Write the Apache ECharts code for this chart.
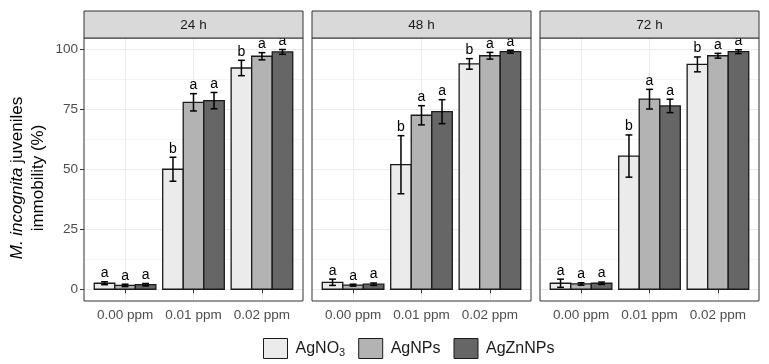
<!DOCTYPE html>
<html>
<head>
<meta charset="utf-8">
<script src="https://cdn.jsdelivr.net/npm/echarts@6/dist/echarts.min.js"></script>
<style>html,body{margin:0;padding:0;background:#fff;}#chart{width:769px;height:364px;}</style>
</head>
<body>
<div id="chart"></div>
<script>
// ---- data ----
const panels = ['24 h', '48 h', '72 h'];
const categories = ['0.00 ppm', '0.01 ppm', '0.02 ppm'];
const treatments = ['AgNO3', 'AgNPs', 'AgZnNPs'];
const yTicks = [0, 25, 50, 75, 100];
const yMinorTicks = [12.5, 37.5, 62.5, 87.5];

// mean immobility (%) per panel (24h, 48h, 72h) x concentration
const AgNO3_mean   = [[2.5, 50.0, 92.2], [2.9, 51.9, 93.9], [2.5, 55.5, 93.7]];
const AgNO3_sd     = [[0.6, 5.0, 3.2],   [1.3, 12.1, 2.2],  [1.7, 8.8, 3.1]];
const AgNO3_letter = [['a', 'b', 'b'],   ['a', 'b', 'b'],   ['a', 'b', 'b']];

const AgNPs_mean   = [[1.6, 77.9, 97.1], [1.7, 72.5, 97.3], [2.2, 79.2, 97.3]];
const AgNPs_sd     = [[0.5, 3.6, 1.5],   [0.4, 4.0, 1.4],   [0.5, 4.1, 1.0]];
const AgNPs_letter = [['a', 'a', 'a'],   ['a', 'a', 'a'],   ['a', 'a', 'a']];

const AgZnNPs_mean   = [[1.9, 78.6, 98.9], [2.1, 74.0, 99.0], [2.5, 76.4, 99.0]];
const AgZnNPs_sd     = [[0.5, 3.4, 1.0],   [0.5, 5.0, 0.6],   [0.5, 2.8, 0.8]];
const AgZnNPs_letter = [['a', 'a', 'a'],   ['a', 'a', 'a'],   ['a', 'a', 'a']];

// ---- styles / layout ----
const fills = ['#EBEBEB', '#B3B3B3', '#666666'];
const means = [AgNO3_mean, AgNPs_mean, AgZnNPs_mean];
const sds = [AgNO3_sd, AgNPs_sd, AgZnNPs_sd];
const letters = [AgNO3_letter, AgNPs_letter, AgZnNPs_letter];
const FONT = '"Liberation Sans", Arial, sans-serif';
const panelLeft = [84, 312, 540];
const panelW = 219;
const gridTop = 38, gridH = 263;
const stripTop = 11, stripH = 27;
const dodge = 0.3, barHalf = 0.15, capHalf = 0.05;
const AXFS = 13.5;

const chart = echarts.init(document.getElementById('chart'), null, {renderer: 'canvas'});

const grids = [], xAxes = [], yAxes = [], series = [], graphics = [];
panels.forEach((p, g) => {
  grids.push({left: panelLeft[g], top: gridTop, width: panelW, height: gridH,
    show: true, borderColor: '#333333', borderWidth: 1, backgroundColor: 'transparent', z: 10});
  xAxes.push({
    type: 'value', gridIndex: g, min: 0.4, max: 3.6,
    axisLine: {show: false},
    axisTick: {show: true, customValues: [1, 2, 3], length: 4, lineStyle: {color: '#333333', width: 1}},
    axisLabel: {show: true, customValues: [1, 2, 3], formatter: v => categories[Math.round(v) - 1],
      color: '#4D4D4D', fontSize: AXFS, fontFamily: FONT, margin: 7},
    splitLine: {show: true, lineStyle: {color: '#EBEBEB', width: 1}}
  });
  yAxes.push({
    type: 'value', gridIndex: g, min: -4.9, max: 104.7,
    axisLine: {show: false},
    axisTick: {show: g === 0, customValues: yTicks, length: 4, lineStyle: {color: '#333333', width: 1}},
    axisLabel: {show: g === 0, customValues: yTicks, color: '#4D4D4D', fontSize: AXFS, fontFamily: FONT, margin: 6},
    splitLine: {show: true, lineStyle: {color: '#EBEBEB', width: 1}}
  });
  // minor gridlines axis
  yAxes.push({
    type: 'value', gridIndex: g, min: -4.9, max: 104.7,
    axisLine: {show: false},
    axisTick: {show: false, customValues: yMinorTicks},
    axisLabel: {show: false, customValues: yMinorTicks},
    splitLine: {show: true, lineStyle: {color: '#F4F4F4', width: 1}}
  });
  graphics.push({type: 'rect', z: 20,
    shape: {x: panelLeft[g], y: stripTop, width: panelW, height: stripH},
    style: {fill: '#D9D9D9', stroke: '#333333', lineWidth: 1}});
  graphics.push({type: 'text', z: 21, x: panelLeft[g] + panelW / 2, y: stripTop + stripH / 2 + 0.5,
    style: {text: p, fill: '#1A1A1A', font: AXFS + 'px ' + FONT, align: 'center', verticalAlign: 'middle'}});

  treatments.forEach((t, j) => {
    const data = categories.map((c, i) => [i + 1, means[j][g][i], sds[j][g][i], letters[j][g][i]]);
    series.push({
      type: 'custom', name: t, xAxisIndex: g, yAxisIndex: g * 2,
      itemStyle: {color: fills[j], borderColor: '#000', borderWidth: 1},
      encode: {x: 0, y: 1},
      data: data,
      renderItem: (params, api) => {
        const cx = api.value(0) + (j - 1) * dodge;
        const m = api.value(1), s = api.value(2);
        const lt = letters[j][g][params.dataIndex];
        const a = api.coord([cx - barHalf, m]);
        const b = api.coord([cx + barHalf, 0]);
        const top = api.coord([cx, m + s]);
        const bot = api.coord([cx, m - s]);
        const cl = api.coord([cx - capHalf, m + s]);
        const cr = api.coord([cx + capHalf, m + s]);
        return {type: 'group', children: [
          {type: 'rect', shape: {x: a[0], y: a[1], width: b[0] - a[0], height: b[1] - a[1]},
            style: {fill: fills[j], stroke: '#1A1A1A', lineWidth: 1.3}},
          {type: 'line', shape: {x1: top[0], y1: top[1], x2: bot[0], y2: bot[1]}, style: {stroke: '#000', lineWidth: 1.5}},
          {type: 'line', shape: {x1: cl[0], y1: top[1], x2: cr[0], y2: top[1]}, style: {stroke: '#000', lineWidth: 1.5}},
          {type: 'line', shape: {x1: cl[0], y1: bot[1], x2: cr[0], y2: bot[1]}, style: {stroke: '#000', lineWidth: 1.5}},
          {type: 'text', x: top[0], y: top[1] - 1.5,
            style: {text: lt, fill: '#000', font: '14px ' + FONT, align: 'center', verticalAlign: 'bottom'}}
        ]};
      }
    });
  });
});

graphics.push({type: 'text', z: 21, x: 28, y: 178, rotation: Math.PI / 2,
  style: {
    text: '{i|M. incognita} juveniles\nimmobility (%)',
    align: 'center', verticalAlign: 'middle', fill: '#000',
    font: '17px ' + FONT, lineHeight: 21,
    rich: {i: {fontStyle: 'italic', fontSize: 17, fontFamily: FONT, fill: '#000', lineHeight: 21}}
  }});

chart.setOption({
  animation: false,
  backgroundColor: '#fff',
  grid: grids, xAxis: xAxes, yAxis: yAxes, series: series,
  legend: {
    left: 263, top: 338, padding: 0, itemWidth: 24, itemHeight: 20, itemGap: 13, icon: 'rect',
    data: treatments,
    formatter: n => n === 'AgNO3' ? 'AgNO{sub|3}' : n,
    textStyle: {color: '#1A1A1A', fontSize: 16, fontFamily: FONT, padding: [0, 0, 0, 3],
      rich: {sub: {fontSize: 11, fontFamily: FONT, verticalAlign: 'bottom', padding: [9, 0, 0, 0]}}},
    itemStyle: {borderColor: '#1A1A1A', borderWidth: 1}
  },
  graphic: graphics
});
</script>
</body>
</html>
